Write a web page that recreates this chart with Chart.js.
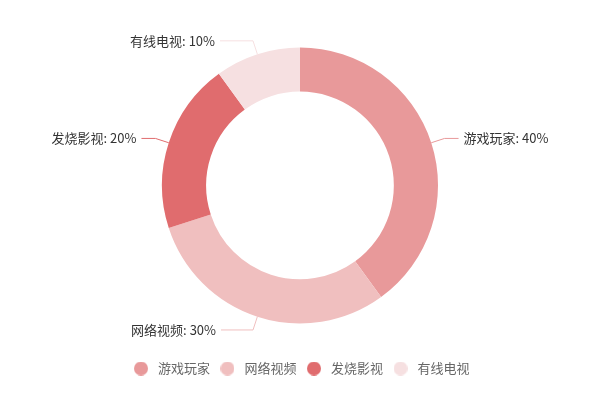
<!DOCTYPE html>
<html>
<head>
<meta charset="utf-8">
<script src="https://cdn.jsdelivr.net/npm/chart.js@4"></script>
<style>
  html, body { margin: 0; padding: 0; background: #fff; }
  #wrap { width: 600px; height: 413px; }
</style>
</head>
<body>
<div id="wrap"><canvas id="chart"></canvas></div>
<script>
// data
const categories = ["游戏玩家", "网络视频", "发烧影视", "有线电视"];
const shares = [40, 30, 20, 10];
const sliceColors = ["#e8999a", "#f0bfbf", "#e06c6e", "#f6e0e1"];
// extra length of the horizontal part of each leader line
const leaderExtra = [0, 18, 0, 19];

const FONT = "'Noto Sans CJK SC', 'Noto Sans', sans-serif";

// small round markers for the legend
function makeDot(color) {
  const c = document.createElement("canvas");
  c.width = 14;
  c.height = 14;
  const g = c.getContext("2d");
  g.fillStyle = color;
  g.beginPath();
  g.arc(7, 7, 7, 0, Math.PI * 2);
  g.fill();
  return c;
}

// labels outside the ring with a bent leader line
const outsideLabels = {
  id: "outsideLabels",
  afterDatasetsDraw(chart) {
    const ctx = chart.ctx;
    const meta = chart.getDatasetMeta(0);
    ctx.save();
    ctx.font = "13px " + FONT;
    ctx.textBaseline = "middle";
    meta.data.forEach((arc, i) => {
      const { x, y, startAngle, endAngle, outerRadius } = arc.getProps(
        ["x", "y", "startAngle", "endAngle", "outerRadius"],
        true
      );
      const mid = (startAngle + endAngle) / 2;
      const cos = Math.cos(mid);
      const sin = Math.sin(mid);
      const p0 = [x + cos * outerRadius, y + sin * outerRadius];
      const p1 = [x + cos * (outerRadius + 14), y + sin * (outerRadius + 14)];
      const right = cos >= 0;
      const len = 14 + leaderExtra[i];
      const p2 = [p1[0] + (right ? len : -len), p1[1]];

      ctx.strokeStyle = sliceColors[i];
      ctx.lineWidth = 1;
      ctx.beginPath();
      ctx.moveTo(p0[0], p0[1]);
      ctx.lineTo(p1[0], p1[1]);
      ctx.lineTo(p2[0], p2[1]);
      ctx.stroke();

      ctx.fillStyle = "#333";
      ctx.textAlign = right ? "left" : "right";
      const text = categories[i] + ": " + shares[i] + "%";
      ctx.fillText(text, p2[0] + (right ? 5 : -5), p2[1]);
    });
    ctx.restore();
  },
};

new Chart(document.getElementById("chart"), {
  type: "doughnut",
  data: {
    labels: categories,
    datasets: [
      {
        data: shares,
        backgroundColor: sliceColors,
        hoverBackgroundColor: sliceColors,
        borderWidth: 0,
        radius: 138,
        cutout: "68%",
      },
    ],
  },
  options: {
    responsive: true,
    maintainAspectRatio: false,
    animation: false,
    layout: {
      padding: { top: 21, bottom: 28 },
    },
    plugins: {
      tooltip: { enabled: false },
      legend: {
        position: "bottom",
        title: {
          display: true,
          text: "",
          font: { size: 1 },
          padding: { top: 4, bottom: 0 },
        },
        labels: {
          usePointStyle: true,
          pointStyleWidth: 21,
          boxHeight: 10,
          padding: 7,
          color: "#444",
          font: { size: 13, family: FONT },
          generateLabels(chart) {
            return categories.map((name, i) => ({
              text: name,
              fillStyle: sliceColors[i],
              strokeStyle: sliceColors[i],
              lineWidth: 0,
              pointStyle: makeDot(sliceColors[i]),
              hidden: false,
              index: i,
            }));
          },
        },
      },
    },
  },
  plugins: [outsideLabels],
});
</script>
</body>
</html>
